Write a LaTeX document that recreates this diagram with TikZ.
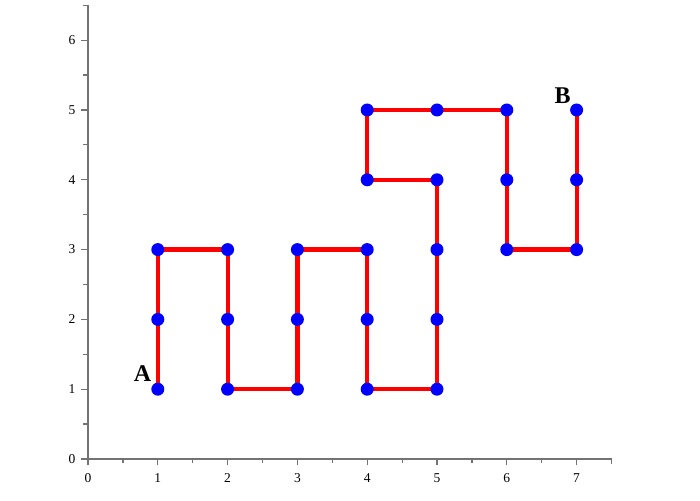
\documentclass[tikz,border=0pt]{standalone}
\usepackage{fontspec}
\setmainfont{Liberation Serif}
\begin{document}
\begin{tikzpicture}[x=1pt,y=1pt,
  axisline/.style={draw=black!55,line width=1.6pt},
  tickline/.style={draw=black!55,line width=1.2pt},
  ticklabel/.style={font=\fontsize{13.5}{15}\selectfont,inner sep=0pt},
  pathline/.style={draw=red,line width=4.2pt},
  dot/.style={circle,fill=blue,inner sep=0pt,minimum size=13pt},
  ptlabel/.style={font=\fontsize{24}{28}\selectfont\bfseries,inner sep=0pt}]
\useasboundingbox (0,0) rectangle (700,500);
\begin{scope}[shift={(88,41)},x=69.8pt,y=69.8pt]
  % axes
  \coordinate (o) at (0,0);
  \coordinate (xe) at (7.5,0);
  \coordinate (ye) at (0,6.5);
  \draw[axisline] (o) -- (xe);
  \draw[axisline] (o) -- (ye);
  \draw[tickline] (xe) -- ++(0,-5pt);
  \draw[tickline] (ye) -- ++(-5pt,0);
  \foreach \i in {0,...,7} {
    \draw[tickline] (\i,0) -- ++(0,-6pt);
    \node[ticklabel] (xl\i) at ([yshift=-19pt]\i,0) {\i};
  }
  \foreach \i in {0,...,6} {
    \draw[tickline] (\i+0.5,0) -- ++(0,-4pt);
    \draw[tickline] (0,\i) -- ++(-7pt,0);
    \draw[tickline] (0,\i+0.5) -- ++(-5pt,0);
    \node[ticklabel] (yl\i) at ([xshift=-16pt]0,\i) {\i};
  }
  % path
  \draw[pathline,line join=miter] (1,1) -- (1,2) -- (1,3) -- (2,3) -- (2,2) -- (2,1) -- (3,1) -- (3,2) -- (3,3)
    -- (4,3) -- (4,2) -- (4,1) -- (5,1) -- (5,2) -- (5,3) -- (5,4) -- (4,4) -- (4,5) -- (5,5)
    -- (6,5) -- (6,4) -- (6,3) -- (7,3) -- (7,4) -- (7,5);
  \foreach \p [count=\k] in {(1,1),(1,2),(1,3),(2,3),(2,2),(2,1),(3,1),(3,2),(3,3),(4,3),(4,2),(4,1),(5,1),(5,2),(5,3),(5,4),(4,4),(4,5),(5,5),(6,5),(6,4),(6,3),(7,3),(7,4),(7,5)}
    \node[dot] (p\k) at \p {};
  \node[ptlabel] (A) at (0.78,1.22) {A};
  \node[ptlabel] (B) at (6.80,5.21) {B};
\end{scope}
\end{tikzpicture}
\end{document}
